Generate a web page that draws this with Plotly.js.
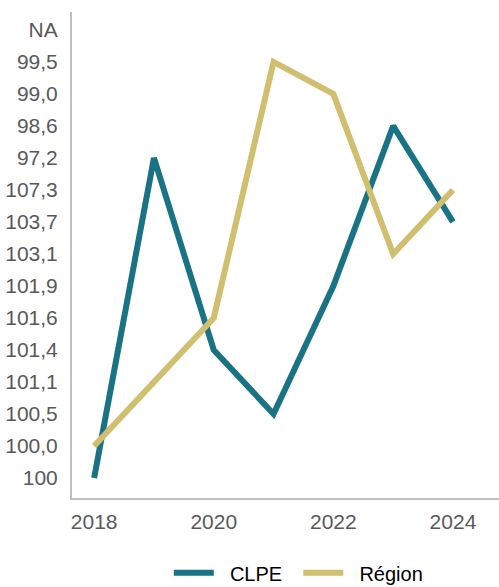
<!DOCTYPE html>
<html><head><meta charset="utf-8">
<script src="https://cdn.plot.ly/plotly-3.0.1.min.js"></script>
<style>html,body{margin:0;padding:0;background:#fff}</style>
</head><body>
<div id="chart" style="width:499px;height:587px"></div>
<script>
const years = [2018, 2019, 2020, 2021, 2022, 2023, 2024];
const categories = ["100","100,0","100,5","101,1","101,4","101,6","101,9","103,1","103,7","107,3","97,2","98,6","99,0","99,5","NA"];
const clpe = ["100","97,2","101,4","100,5","101,9","98,6","103,7"];
const region = ["100,0","101,1","101,6","99,5","99,0","103,1","107,3"];
const seriesNames = ["CLPE", "Région"];

const traces = [
  {x: years, y: clpe, name: "\u00a0\u00a0" + seriesNames[0] + "\u00a0\u00a0", type: "scatter", mode: "lines",
   line: {color: "#1a7384", width: 6}},
  {x: years, y: region, name: "\u00a0\u00a0" + seriesNames[1], type: "scatter", mode: "lines",
   line: {color: "#cfbf6f", width: 6}}
];
const layout = {
  width: 499, height: 587,
  margin: {l: 72, r: 0, t: 12, b: 89, autoexpand: false},
  paper_bgcolor: "#fff", plot_bgcolor: "#fff",
  font: {family: "Liberation Sans, Arial, sans-serif", size: 21, color: "#595959"},
  showlegend: true,
  legend: {orientation: "h", x: 0.53, xanchor: "center", y: -0.154, yanchor: "middle",
           font: {size: 20, color: "#000"}, itemwidth: 40},
  xaxis: {range: [2017.63, 2024.77], tickvals: [2018, 2020, 2022, 2024], showgrid: false,
          zeroline: false, showline: true, linecolor: "#bfbfbf", linewidth: 2, ticks: "",
          ticklabelstandoff: 4},
  yaxis: {type: "category", categoryorder: "array", categoryarray: categories,
          range: [-0.625, 14.56], showgrid: false, zeroline: false, showline: true,
          linecolor: "#bfbfbf", linewidth: 2, ticks: "", ticklabelstandoff: 8}
};
Plotly.newPlot("chart", traces, layout, {displayModeBar: false});
</script>
</body></html>
